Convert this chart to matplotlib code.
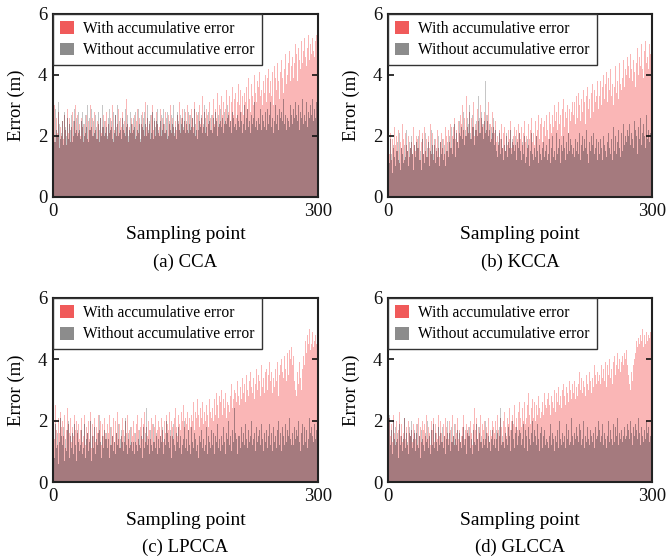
import matplotlib.pyplot as plt
import numpy as np
from matplotlib.patches import Patch

# errors, in units of 0.1 m (300 sampling points each)
a_with = [24, 30, 18, 26, 21, 28, 16, 23, 31, 20, 25, 19, 27, 22, 17, 29, 24, 21, 26, 18, 23, 28, 20, 25, 30, 19, 22, 27, 21, 24,
          20, 26, 23, 29, 18, 24, 21, 27, 19, 25, 22, 30, 17, 23, 26, 20, 28, 22, 19, 25, 24, 31, 18, 26, 21, 23, 27, 20, 25, 22,
          28, 19, 24, 21, 26, 23, 30, 18, 25, 22, 27, 20, 24, 29, 21, 26, 19, 23, 28, 22, 25, 20, 32, 24, 18, 27, 23, 21, 26, 24,
          22, 27, 19, 25, 23, 29, 21, 26, 18, 24, 28, 22, 25, 20, 31, 23, 26, 21, 24, 19, 27, 23, 30, 22, 25, 20, 28, 24, 21, 26,
          23, 29, 20, 26, 24, 21, 28, 22, 25, 19, 27, 24, 30, 21, 26, 23, 20, 28, 25, 22, 27, 24, 31, 21, 26, 23, 29, 22, 25, 28,
          24, 30, 21, 27, 25, 22, 29, 26, 23, 31, 20, 28, 25, 27, 22, 30, 24, 26, 33, 23, 28, 25, 21, 29, 27, 24, 31, 26, 22, 29,
          27, 32, 24, 29, 26, 34, 23, 30, 28, 25, 33, 27, 31, 24, 29, 35, 26, 30, 28, 33, 25, 31, 36, 27, 32, 29, 34, 26, 31, 37,
          30, 35, 28, 33, 38, 27, 34, 31, 36, 29, 39, 32, 35, 28, 37, 33, 30, 40, 34, 31, 38, 29, 36, 41, 33, 35, 30, 38, 34, 40,
          36, 31, 39, 42, 34, 38, 33, 41, 37, 30, 43, 39, 35, 44, 38, 32, 41, 36, 45, 39, 34, 42, 47, 37, 40, 35, 44, 48, 38, 43,
          46, 39, 44, 50, 41, 47, 38, 49, 45, 42, 51, 44, 48, 40, 52, 46, 43, 49, 53, 45, 50, 44, 47, 52, 48, 46, 51, 53, 49, 52]
a_without = [26, 18, 29, 22, 20, 31, 24, 19, 27, 21, 25, 17, 28, 23, 20, 26, 30, 19, 24, 22, 27, 18, 25, 29, 21, 23, 26, 20, 28, 22,
             19, 25, 28, 21, 24, 20, 27, 23, 30, 18, 26, 22, 24, 29, 20, 25, 21, 27, 23, 19, 28, 24, 22, 26, 20, 30, 23, 25, 21, 27,
             23, 20, 26, 29, 22, 25, 19, 28, 24, 21, 27, 23, 30, 20, 25, 22, 28, 19, 26, 24, 21, 29, 23, 27, 20, 25, 22, 28, 24, 21,
             26, 23, 28, 20, 25, 22, 29, 24, 19, 27, 23, 26, 21, 28, 24, 20, 30, 22, 25, 27, 21, 24, 28, 19, 26, 23, 25, 29, 22, 24,
             20, 25, 27, 22, 29, 24, 21, 26, 23, 28, 20, 25, 22, 27, 24, 30, 21, 26, 23, 19, 28, 25, 22, 27, 24, 20, 26, 23, 29, 21,
             25, 22, 28, 24, 20, 27, 23, 26, 21, 29, 24, 22, 26, 19, 28, 25, 23, 27, 21, 24, 30, 22, 26, 23, 20, 28, 25, 22, 27, 24,
             21, 26, 23, 28, 25, 20, 27, 24, 22, 29, 23, 26, 21, 28, 25, 24, 30, 22, 27, 23, 25, 21, 28, 26, 23, 29, 24, 22, 27, 25,
             23, 28, 25, 21, 27, 24, 30, 22, 26, 29, 23, 25, 28, 21, 27, 24, 26, 31, 23, 25, 22, 28, 26, 24, 29, 22, 27, 25, 23, 28,
             26, 22, 29, 24, 27, 31, 23, 26, 28, 21, 25, 30, 24, 27, 22, 29, 26, 23, 28, 25, 32, 24, 27, 22, 26, 29, 25, 23, 30, 27,
             24, 29, 26, 31, 23, 27, 25, 30, 22, 28, 26, 32, 24, 29, 27, 25, 31, 23, 28, 26, 30, 24, 27, 32, 25, 29, 26, 31, 28, 33]

b_with = [18, 14, 21, 12, 19, 16, 23, 13, 17, 20, 15, 22, 11, 18, 16, 24, 14, 19, 12, 21, 17, 15, 20, 13, 22, 16, 18, 14, 23, 17,
          15, 20, 13, 19, 16, 22, 12, 18, 21, 14, 17, 23, 15, 19, 13, 20, 16, 24, 14, 18, 21, 12, 17, 19, 15, 22, 16, 20, 13, 18,
          21, 16, 19, 14, 23, 17, 20, 15, 22, 18, 24, 16, 20, 23, 17, 26, 19, 22, 18, 25, 21, 27, 19, 24, 30, 22, 26, 20, 33, 23,
          25, 21, 28, 19, 26, 23, 31, 20, 27, 24, 22, 29, 25, 21, 30, 26, 23, 32, 24, 28, 21, 27, 25, 31, 22, 26, 24, 19, 28, 23,
          21, 25, 18, 23, 20, 17, 22, 19, 24, 16, 21, 18, 23, 15, 20, 17, 22, 19, 25, 16, 21, 18, 20, 23, 17, 22, 19, 24, 18, 21,
          19, 23, 17, 21, 25, 18, 22, 20, 16, 24, 19, 22, 26, 18, 21, 23, 17, 25, 20, 22, 27, 19, 24, 21, 26, 18, 23, 25, 20, 27,
          22, 26, 19, 28, 24, 21, 27, 23, 30, 20, 25, 28, 22, 31, 24, 27, 20, 29, 25, 32, 23, 28, 26, 30, 21, 29, 33, 25, 28, 31,
          27, 31, 24, 33, 29, 26, 34, 30, 25, 32, 28, 35, 27, 31, 24, 33, 36, 29, 32, 26, 34, 30, 37, 28, 35, 31, 33, 38, 29, 36,
          33, 38, 30, 36, 40, 32, 37, 34, 41, 31, 39, 35, 42, 33, 37, 30, 40, 36, 43, 34, 38, 32, 44, 37, 41, 35, 39, 45, 36, 42,
          40, 46, 37, 43, 39, 47, 42, 38, 45, 41, 48, 36, 44, 49, 40, 46, 43, 50, 42, 47, 39, 48, 51, 44, 46, 42, 50, 53, 47, 49]
b_without = [16, 11, 19, 14, 8, 17, 13, 20, 10, 15, 18, 12, 21, 9, 16, 14, 19, 11, 17, 13, 22, 15, 10, 18, 12, 16, 20, 14, 9, 17,
             13, 18, 10, 16, 20, 12, 15, 9, 19, 14, 17, 11, 21, 13, 16, 18, 10, 15, 22, 12, 17, 14, 19, 11, 16, 13, 20, 15, 10, 18,
             14, 19, 12, 17, 10, 21, 15, 18, 13, 20, 16, 23, 14, 19, 17, 24, 13, 21, 18, 16, 25, 20, 15, 23, 19, 28, 17, 22, 20, 26,
             18, 24, 30, 21, 19, 27, 23, 17, 29, 22, 25, 20, 33, 26, 21, 28, 24, 31, 19, 25, 38, 22, 27, 20, 24, 29, 18, 23, 21, 26,
             17, 22, 15, 20, 13, 18, 21, 14, 19, 16, 12, 20, 17, 15, 21, 13, 18, 16, 22, 14, 11, 19, 17, 15, 20, 12, 18, 16, 14, 21,
             15, 12, 18, 14, 20, 11, 16, 13, 19, 17, 10, 15, 21, 14, 12, 18, 16, 13, 20, 15, 11, 17, 14, 19, 12, 16, 18, 13, 15, 17,
             12, 17, 14, 19, 11, 16, 20, 13, 15, 18, 12, 21, 14, 16, 19, 11, 17, 15, 13, 20, 16, 12, 18, 14, 21, 15, 13, 19, 17, 14,
             16, 13, 19, 15, 11, 18, 14, 21, 12, 17, 20, 15, 13, 19, 16, 22, 14, 11, 18, 15, 20, 13, 17, 21, 14, 16, 19, 12, 18, 15,
             14, 19, 16, 12, 20, 17, 15, 22, 13, 18, 21, 16, 14, 19, 12, 23, 17, 15, 20, 14, 18, 22, 16, 13, 19, 21, 15, 24, 17, 20,
             18, 22, 15, 20, 24, 17, 21, 19, 16, 25, 18, 22, 20, 14, 23, 19, 26, 17, 21, 18, 24, 20, 16, 27, 19, 22, 18, 25, 21, 23]

c_with = [19, 14, 25, 17, 12, 21, 16, 23, 13, 18, 20, 15, 22, 11, 17, 24, 14, 19, 16, 21, 13, 18, 15, 22, 17, 12, 20, 16, 19, 14,
          17, 21, 13, 19, 15, 22, 12, 18, 16, 20, 14, 23, 17, 11, 19, 15, 21, 13, 18, 16, 22, 14, 17, 20, 12, 19, 15, 21, 16, 18,
          14, 19, 16, 22, 12, 18, 15, 21, 17, 13, 20, 16, 23, 14, 19, 11, 18, 15, 21, 17, 13, 20, 16, 22, 14, 19, 17, 12, 18, 15,
          20, 16, 13, 19, 15, 22, 17, 12, 18, 21, 14, 19, 16, 23, 13, 18, 15, 20, 17, 14, 21, 16, 19, 13, 18, 22, 15, 17, 20, 14,
          18, 15, 21, 17, 13, 20, 16, 22, 14, 19, 17, 23, 15, 20, 18, 14, 21, 16, 24, 18, 15, 22, 19, 17, 23, 16, 20, 25, 18, 21,
          19, 23, 17, 21, 25, 18, 22, 20, 26, 17, 23, 21, 19, 27, 22, 18, 24, 21, 26, 19, 23, 28, 20, 25, 22, 18, 27, 23, 21, 26,
          24, 20, 27, 22, 29, 25, 21, 28, 23, 26, 30, 22, 27, 24, 29, 21, 26, 31, 25, 23, 28, 32, 24, 27, 30, 22, 29, 26, 33, 28,
          25, 31, 27, 34, 22, 29, 32, 26, 35, 30, 28, 33, 24, 36, 31, 29, 34, 27, 32, 37, 30, 26, 35, 33, 28, 38, 31, 34, 29, 36,
          32, 37, 30, 35, 39, 33, 36, 29, 38, 34, 31, 37, 33, 39, 28, 35, 38, 32, 40, 36, 34, 41, 37, 33, 42, 39, 35, 43, 40, 44,
          38, 41, 33, 30, 35, 28, 36, 32, 39, 34, 30, 37, 41, 44, 38, 46, 42, 48, 45, 50, 43, 47, 45, 49, 44, 46, 48, 45, 47, 46]
c_without = [14, 8, 19, 11, 16, 6, 13, 21, 9, 15, 12, 18, 7, 14, 10, 17, 13, 20, 8, 15, 11, 16, 9, 19, 12, 14, 7, 17, 13, 10,
             12, 17, 9, 15, 11, 19, 8, 14, 16, 10, 13, 20, 12, 7, 15, 11, 18, 9, 14, 12, 16, 10, 22, 13, 8, 15, 11, 17, 14, 9,
             16, 11, 14, 8, 18, 12, 15, 10, 20, 13, 9, 16, 12, 19, 11, 14, 7, 17, 13, 10, 15, 21, 12, 9, 16, 14, 11, 18, 13, 10,
             13, 9, 16, 12, 19, 10, 14, 17, 11, 15, 8, 18, 13, 11, 16, 24, 12, 14, 9, 17, 12, 15, 10, 19, 13, 11, 16, 9, 14, 18,
             11, 15, 13, 18, 9, 14, 12, 20, 10, 16, 13, 11, 17, 8, 15, 19, 12, 14, 10, 16, 13, 18, 11, 15, 9, 17, 12, 14, 20, 11,
             14, 10, 17, 12, 15, 9, 18, 13, 11, 16, 14, 10, 19, 12, 8, 15, 13, 17, 11, 14, 10, 16, 12, 18, 9, 15, 13, 11, 17, 14,
             12, 16, 9, 15, 13, 19, 11, 14, 17, 10, 15, 12, 18, 13, 9, 16, 14, 11, 20, 12, 15, 10, 17, 13, 24, 11, 16, 14, 9, 15,
             15, 11, 18, 13, 10, 16, 12, 19, 14, 11, 17, 13, 9, 15, 20, 12, 14, 16, 10, 18, 13, 11, 15, 17, 12, 19, 14, 10, 16, 13,
             13, 17, 11, 15, 19, 12, 16, 10, 14, 18, 13, 15, 11, 17, 20, 12, 16, 14, 10, 18, 15, 12, 19, 13, 17, 11, 15, 21, 14, 12,
             16, 12, 18, 14, 11, 17, 15, 20, 13, 10, 16, 19, 12, 15, 18, 13, 17, 11, 14, 21, 16, 12, 18, 15, 13, 19, 14, 17, 12, 15]

d_with = [17, 21, 15, 19, 13, 22, 16, 18, 12, 20, 14, 17, 23, 15, 19, 13, 24, 16, 21, 14, 18, 12, 20, 16, 22, 15, 17, 13, 19, 16,
          14, 19, 16, 12, 21, 15, 18, 13, 20, 17, 11, 19, 15, 22, 14, 18, 16, 12, 20, 15, 17, 21, 13, 19, 16, 14, 22, 18, 15, 20,
          16, 13, 19, 15, 21, 12, 18, 16, 14, 20, 17, 13, 22, 15, 18, 12, 19, 16, 21, 14, 17, 13, 20, 15, 18, 22, 14, 17, 19, 16,
          13, 18, 15, 20, 16, 12, 19, 24, 15, 17, 21, 14, 18, 16, 22, 13, 19, 15, 17, 20, 14, 18, 16, 21, 13, 19, 17, 15, 20, 18,
          16, 20, 14, 19, 22, 17, 15, 21, 18, 13, 20, 16, 23, 18, 15, 21, 19, 24, 17, 20, 16, 22, 19, 25, 18, 21, 17, 23, 20, 26,
          21, 18, 24, 20, 26, 19, 23, 21, 25, 29, 22, 19, 24, 27, 21, 23, 26, 20, 25, 22, 28, 24, 21, 27, 23, 26, 22, 29, 25, 24,
          27, 23, 29, 25, 22, 28, 26, 24, 30, 27, 23, 29, 26, 31, 25, 28, 24, 30, 27, 32, 28, 25, 31, 29, 26, 33, 28, 30, 27, 32,
          29, 33, 27, 31, 35, 28, 32, 36, 30, 34, 29, 33, 37, 31, 28, 35, 32, 30, 36, 33, 29, 37, 34, 31, 38, 35, 32, 36, 33, 30,
          35, 32, 38, 34, 37, 33, 39, 36, 31, 38, 35, 40, 34, 37, 32, 39, 36, 41, 35, 38, 42, 37, 40, 36, 43, 39, 41, 38, 42, 40,
          43, 38, 41, 35, 32, 30, 36, 33, 38, 40, 35, 42, 46, 44, 47, 45, 48, 46, 50, 47, 44, 48, 45, 49, 46, 48, 47, 45, 49, 46]
d_without = [15, 22, 12, 17, 9, 20, 14, 11, 18, 13, 16, 8, 19, 12, 15, 10, 17, 14, 21, 11, 16, 13, 9, 18, 12, 15, 20, 11, 14, 17,
             10, 16, 13, 19, 11, 15, 8, 17, 14, 12, 18, 10, 16, 13, 20, 11, 15, 9, 17, 14, 12, 19, 11, 16, 13, 10, 18, 15, 12, 16,
             13, 18, 11, 15, 9, 17, 14, 20, 12, 16, 10, 18, 13, 15, 11, 19, 14, 12, 17, 10, 16, 13, 21, 11, 15, 18, 12, 14, 9, 17,
             12, 15, 18, 11, 14, 9, 17, 13, 16, 12, 19, 14, 10, 18, 13, 15, 11, 17, 14, 12, 20, 16, 11, 15, 13, 18, 10, 14, 17, 12,
             14, 11, 17, 13, 16, 10, 18, 24, 12, 15, 13, 19, 11, 16, 14, 12, 18, 15, 10, 17, 13, 20, 14, 11, 16, 18, 12, 15, 13, 17,
             16, 12, 14, 19, 11, 17, 13, 15, 10, 18, 14, 12, 16, 20, 13, 11, 17, 15, 12, 19, 14, 10, 16, 13, 18, 11, 15, 17, 12, 14,
             13, 17, 11, 15, 19, 12, 16, 14, 10, 18, 15, 13, 17, 11, 20, 14, 12, 16, 18, 13, 15, 11, 19, 14, 17, 12, 16, 13, 21, 15,
             12, 16, 14, 18, 11, 15, 13, 19, 17, 12, 14, 20, 16, 11, 15, 13, 18, 14, 12, 17, 15, 19, 13, 16, 11, 18, 14, 15, 20, 13,
             17, 13, 15, 19, 12, 16, 14, 18, 11, 15, 20, 13, 17, 14, 12, 19, 16, 13, 18, 15, 21, 12, 16, 14, 19, 17, 13, 15, 18, 14,
             15, 19, 13, 17, 14, 20, 16, 12, 18, 15, 13, 19, 17, 14, 21, 16, 12, 18, 15, 19, 13, 17, 14, 20, 16, 18, 13, 19, 15, 17]

captions = ["(a) CCA", "(b) KCCA", "(c) LPCCA", "(d) GLCCA"]
series = [(a_with, a_without), (b_with, b_without), (c_with, c_without), (d_with, d_without)]
labels = ["With accumulative error", "Without accumulative error"]

plt.rcParams['font.family'] = ['Liberation Serif', 'DejaVu Serif']

samples = np.arange(1, 301)
positions = [[0.0796, 0.647, 0.398, 0.328],
             [0.5826, 0.647, 0.396, 0.328],
             [0.0796, 0.136, 0.398, 0.330],
             [0.5826, 0.136, 0.396, 0.330]]

fig = plt.figure(figsize=(6.66, 5.58), dpi=100)

for pos, cap, (w, wo) in zip(positions, captions, series):
    ax = fig.add_axes(pos)
    w = np.array(w) / 10.0
    wo = np.array(wo) / 10.0
    ax.bar(samples, w, width=1.0, color='#fab6b6', linewidth=0)
    ax.bar(samples, wo, width=1.0, color='#c6c6c6', linewidth=0)
    ax.bar(samples, np.minimum(w, wo), width=1.0, color='#a57a7e', linewidth=0)

    ax.set_xlim(0, 300)
    ax.set_ylim(0, 6)
    ax.set_xticks([0, 300])
    ax.set_yticks([0, 2, 4, 6])
    ax.tick_params(direction='in', right=True, length=4, width=1.2,
                   labelsize=13.5, colors='#111111', pad=4)
    for sp in ax.spines.values():
        sp.set_linewidth(1.5)
        sp.set_color('#222222')

    ax.set_ylabel('Error (m)', fontsize=13.5)
    ax.yaxis.set_label_coords(-0.105, 0.5)
    ax.set_xlabel('Sampling point', fontsize=14)
    ax.xaxis.set_label_coords(0.5, -0.16)
    ax.text(0.5, -0.355, cap, transform=ax.transAxes, ha='center', va='center', fontsize=13.5)

    handles = [Patch(facecolor='#f05a5a', edgecolor='none', label=labels[0]),
               Patch(facecolor='#8c8c8c', edgecolor='none', label=labels[1])]
    leg = ax.legend(handles=handles, loc='upper left', borderaxespad=0, fancybox=False,
                    edgecolor='#333333', framealpha=1, fontsize=11.2,
                    handlelength=0.9, handleheight=0.9, handletextpad=0.6,
                    borderpad=0.45, labelspacing=0.35)
    leg.get_frame().set_linewidth(1.0)

fig.savefig('out.png', dpi=100)
